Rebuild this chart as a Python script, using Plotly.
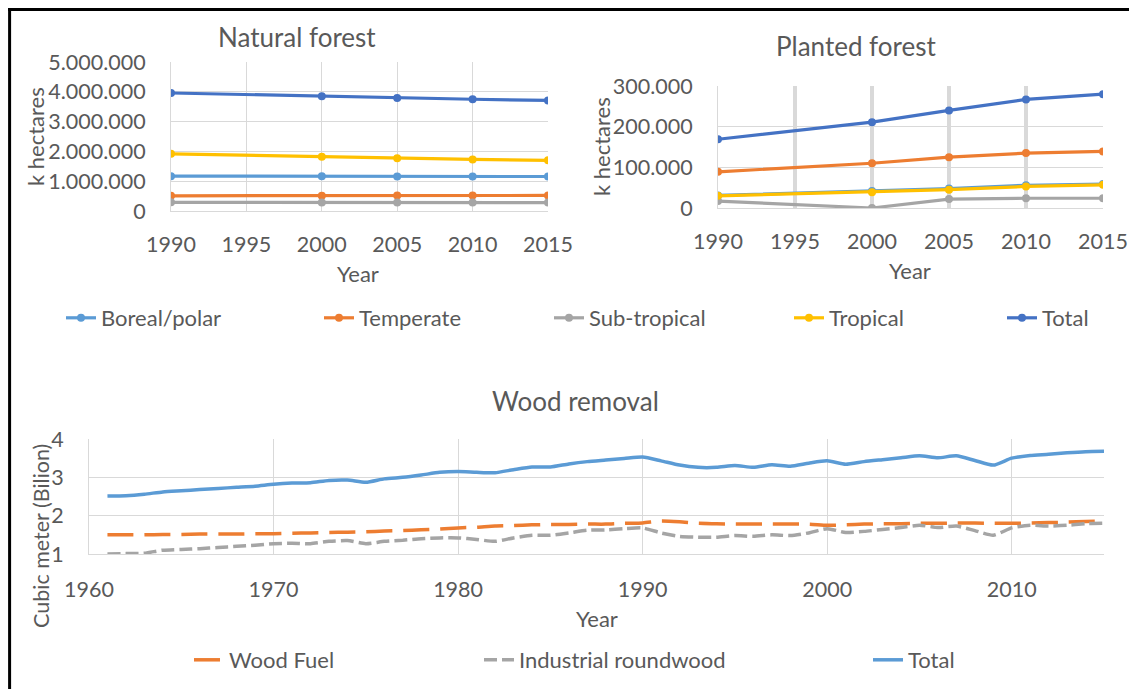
import plotly.graph_objects as go

OFF = 8  # page body margin of the viewer
W, H = 1137 - OFF, 689 - OFF

# ---------------- data ----------------
forest_years = [1990, 2000, 2005, 2010, 2015]
zones = ["Boreal/polar", "Temperate", "Sub-tropical", "Tropical", "Total"]
zone_colors = ["#5B9BD5", "#ED7D31", "#A5A5A5", "#FFC000", "#4472C4"]

natural_boreal = [1170000, 1165000, 1160000, 1158000, 1157000]
natural_temperate = [510000, 515000, 518000, 520000, 522000]
natural_subtropical = [290000, 287000, 285000, 283000, 282000]
natural_tropical = [1920000, 1820000, 1770000, 1730000, 1700000]
natural_total = [3960000, 3850000, 3790000, 3750000, 3710000]

planted_boreal = [31000, 42000, 48000, 56000, 59000]
planted_temperate = [89000, 110000, 125000, 135000, 139000]
planted_subtropical = [17000, 0, 22000, 24000, 24000]
planted_tropical = [30000, 39000, 45000, 53000, 57000]
planted_total = [169000, 211000, 240000, 267000, 280000]

wood_years = list(range(1961, 2016))
wood_fuel = [1.50, 1.50, 1.50, 1.51, 1.51, 1.52, 1.52, 1.52, 1.53, 1.53,
             1.54, 1.55, 1.56, 1.57, 1.58, 1.60, 1.61, 1.63, 1.65, 1.68,
             1.70, 1.73, 1.74, 1.76, 1.77, 1.77, 1.78, 1.78, 1.80, 1.81,
             1.86, 1.84, 1.80, 1.79, 1.78, 1.78, 1.78, 1.78, 1.78, 1.75,
             1.76, 1.78, 1.79, 1.79, 1.80, 1.80, 1.81, 1.81, 1.80, 1.80,
             1.81, 1.82, 1.83, 1.85, 1.86]
industrial_roundwood = [1.00, 1.01, 1.02, 1.10, 1.12, 1.14, 1.17, 1.20, 1.23, 1.27,
                        1.28, 1.27, 1.33, 1.35, 1.27, 1.33, 1.36, 1.40, 1.42, 1.42,
                        1.38, 1.33, 1.42, 1.49, 1.49, 1.55, 1.62, 1.63, 1.66, 1.68,
                        1.55, 1.46, 1.44, 1.44, 1.48, 1.46, 1.50, 1.48, 1.55, 1.66,
                        1.56, 1.59, 1.64, 1.69, 1.75, 1.69, 1.73, 1.61, 1.49, 1.68,
                        1.75, 1.73, 1.75, 1.79, 1.80]
wood_total = [2.51, 2.52, 2.56, 2.62, 2.65, 2.68, 2.71, 2.74, 2.77, 2.82,
              2.85, 2.86, 2.92, 2.93, 2.87, 2.96, 3.00, 3.06, 3.13, 3.15,
              3.13, 3.12, 3.20, 3.27, 3.27, 3.35, 3.41, 3.45, 3.49, 3.53,
              3.43, 3.32, 3.26, 3.26, 3.31, 3.26, 3.33, 3.29, 3.37, 3.43,
              3.34, 3.41, 3.46, 3.51, 3.56, 3.51, 3.56, 3.44, 3.32, 3.50,
              3.57, 3.60, 3.64, 3.67, 3.68]

natural = [natural_boreal, natural_temperate, natural_subtropical, natural_tropical, natural_total]
planted = [planted_boreal, planted_temperate, planted_subtropical, planted_tropical, planted_total]

# ---------------- style ----------------
FONT = "Lato"
TXT = "#595959"
GRID = "#D9D9D9"


def px(x):
    return (x - OFF) / W


def py(y):
    return 1 - (y - OFF) / H


fig = go.Figure()

top_legend_x = [105, 363, 593, 833, 1046]
for i, name in enumerate(zones):
    lg = "legend" if i == 0 else f"legend{i + 1}"
    fig.add_trace(go.Scatter(
        x=forest_years, y=natural[i], name=name, mode="lines+markers",
        line=dict(color=zone_colors[i], width=3.2), marker=dict(size=8, color=zone_colors[i]),
        xaxis="x", yaxis="y", legend=lg, showlegend=True))
for i, name in enumerate(zones):
    fig.add_trace(go.Scatter(
        x=forest_years, y=planted[i], name=name, mode="lines+markers",
        line=dict(color=zone_colors[i], width=3.2), marker=dict(size=8, color=zone_colors[i]),
        xaxis="x2", yaxis="y2", showlegend=False))

wood_series = [("Wood Fuel", wood_fuel, "#ED7D31", "26px,11px", "legend6"),
               ("Industrial roundwood", industrial_roundwood, "#A5A5A5", "13px,5px", "legend7"),
               ("Total", wood_total, "#5B9BD5", "solid", "legend8")]
for name, vals, col, dash, lg in wood_series:
    fig.add_trace(go.Scatter(
        x=wood_years, y=vals, name=name, mode="lines",
        line=dict(color=col, width=3.5, dash=dash, shape="spline", smoothing=0.6),
        xaxis="x3", yaxis="y3", legend=lg))

axis_common = dict(showgrid=True, gridcolor=GRID, gridwidth=1, zeroline=False,
                   showline=True, linecolor=GRID, linewidth=1, ticks="",
                   fixedrange=True, automargin=False)
tf = dict(family=FONT, size=21.5, color=TXT)

layout = dict(
    width=W, height=H, margin=dict(l=0, r=0, t=0, b=0, pad=0, autoexpand=False),
    paper_bgcolor="white", plot_bgcolor="white",
    separators=",.",
    font=dict(family=FONT, color=TXT),
    xaxis=dict(domain=[px(171), px(548)], range=[1990, 2015], dtick=5, tick0=1990,
               anchor="y", ticklabelstandoff=14, tickfont=tf, **axis_common),
    yaxis=dict(domain=[py(211), py(62)], range=[0, 5000000], dtick=1000000,
               tickformat=",d", anchor="x", ticklabelstandoff=20, tickfont=tf, **axis_common),
    xaxis2=dict(domain=[px(718), px(1103)], range=[1990, 2015], dtick=5, tick0=1990,
                anchor="y2", ticklabelstandoff=14, tickfont=tf,
                **{**axis_common, "gridwidth": 3.5}),
    yaxis2=dict(domain=[py(208), py(86)], range=[0, 300000], dtick=100000,
                tickformat=",d", anchor="x2", ticklabelstandoff=20, tickfont=tf, **axis_common),
    xaxis3=dict(domain=[px(89), px(1104)], range=[1960, 2015], dtick=10, tick0=1960,
                anchor="y3", ticklabelstandoff=16, tickfont=tf, **axis_common),
    yaxis3=dict(domain=[py(554), py(439)], range=[1, 4], dtick=1,
                anchor="x3", ticklabelstandoff=20, tickfont=tf, **axis_common),
)

# legends, one per entry for exact placement
for i, tx in enumerate(top_legend_x):
    key = "legend" if i == 0 else f"legend{i + 1}"
    layout[key] = dict(x=px(tx - 44), y=py(318), xanchor="left", yanchor="middle",
                       orientation="h", bgcolor="rgba(0,0,0,0)", itemwidth=30,
                       font=dict(family=FONT, size=22, color=TXT))
for key, tx in zip(["legend6", "legend7", "legend8"], [233, 523, 912]):
    layout[key] = dict(x=px(tx - 44), y=py(660), xanchor="left", yanchor="middle",
                       orientation="h", bgcolor="rgba(0,0,0,0)", itemwidth=30,
                       font=dict(family=FONT, size=22, color=TXT))

fig.update_layout(**layout)

# titles and axis titles
ann = [
    ("Natural forest", 297, 37, 26, 0),
    ("Planted forest", 856, 46, 26, 0),
    ("Wood removal", 575, 401, 26, 0),
    ("k hectares", 35, 137, 22, -90),
    ("k hectares", 601, 147, 22, -90),
    ("Cubic meter (Bilion)", 41, 536, 21.5, -90),
    ("Year", 358, 273, 22, 0),
    ("Year", 910, 270, 22, 0),
    ("Year", 597, 618, 22, 0),
]
for text, x, y, size, ang in ann:
    fig.add_annotation(text=text, x=px(x), y=py(y), xref="paper", yref="paper",
                       xanchor="center", yanchor="middle", showarrow=False,
                       textangle=ang, font=dict(family=FONT, size=size, color=TXT))

# frame: left and top edges of the picture border only
frame = dict(color="black", width=3)
fig.add_shape(type="line", xref="paper", yref="paper",
              x0=px(9.6), x1=px(9.6), y0=0, y1=py(8.1), line=frame, layer="above")
fig.add_shape(type="line", xref="paper", yref="paper",
              x0=px(8.1), x1=1, y0=py(9.6), y1=py(9.6), line=frame, layer="above")

fig.write_html("out.html")
